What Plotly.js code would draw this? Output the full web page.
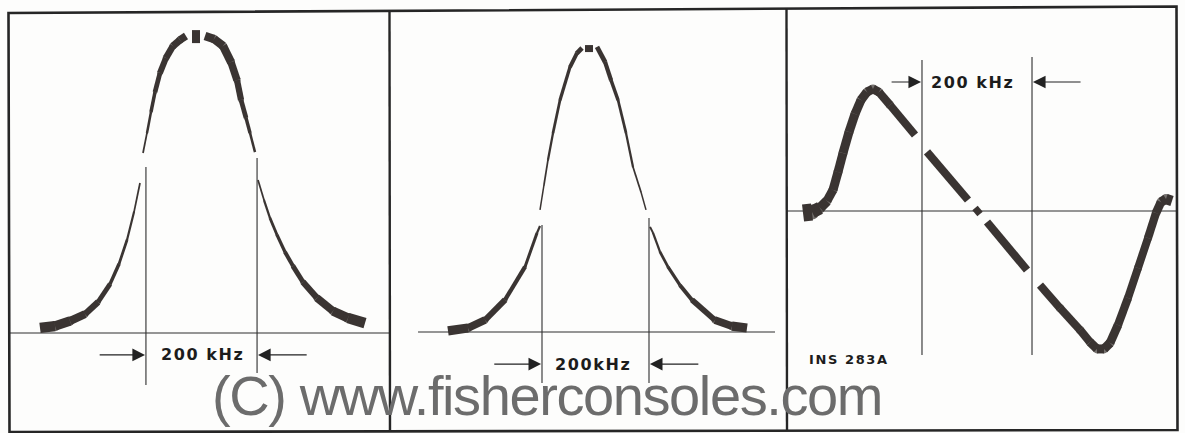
<!DOCTYPE html>
<html>
<head>
<meta charset="utf-8">
<script src="https://cdn.plot.ly/plotly-3.0.1.min.js"></script>
<style>
html,body{margin:0;padding:0;background:#fdfdfc;}
#chart{width:1185px;height:433px;}
.annotation-text[style*="DejaVu"]{letter-spacing:1.6px;}
.annotation-text[style*="Liberation"]{letter-spacing:-1.4px;}
</style>
</head>
<body>
<div id="chart"></div>
<script>
// ---------------- DATA ----------------
// Panel 1: response curve, frequency offset (kHz) vs relative amplitude; null = gap in trace
const p1Freq = [-290.7,-263.7,-236.7,-209.7,-186.3,-164.7,-148.5,-134.1,-121.5,-110.7, null,
  -105.3,-98.1,-90.9,-83.7,-74.7,-63.9,-51.3,-38.7,-27.9, null,
  -17.1,-2.7, null,
  6.3,22.5,38.7,53.1,63.9,71.1,80.1,87.3,96.3, null,
  101.7,112.5,123.3,135.9,150.3,164.7,182.7,207.9,236.7,263.7,294.3];
const p1Amp = [0.017,0.023,0.040,0.063,0.103,0.163,0.230,0.310,0.403,0.500, null,
  0.600,0.667,0.737,0.803,0.867,0.917,0.957,0.977,0.990, null,
  0.988,0.988, null,
  0.990,0.980,0.957,0.903,0.843,0.777,0.717,0.667,0.603, null,
  0.510,0.443,0.383,0.327,0.270,0.223,0.170,0.117,0.073,0.050,0.033];

// Panel 2: narrower response curve
const p2Freq = [-275.7,-238.3,-206.5,-169.1,-131.8,-109.3,-103.7, null,
  -103.7,-96.3,-88.8,-79.4,-66.3,-47.7,-34.6,-25.2, null,
  -19.6,-4.7, null,
  2.8,17.8,29.0,42.1,57.0,70.1,85.0,94.4, null,
  101.9,107.5,120.6,135.5,157.9,180.4,223.3,255.1,283.2];
const p2Amp = [0.004,0.014,0.042,0.113,0.229,0.349,0.373, null,
  0.430,0.518,0.606,0.701,0.817,0.933,0.982,1.000, null,
  0.998,0.998, null,
  1.004,0.951,0.887,0.817,0.701,0.581,0.493,0.430, null,
  0.370,0.349,0.282,0.229,0.165,0.113,0.042,0.021,0.014];

// Panel 3: discriminator S-curve
const p3Freq = [-316.3,-300.0,-285.4,-272.7,-261.8,-252.7,-243.6,-232.7,-221.8,-210.9,-200.0,-189.1,-178.2,-158.2,-112.7, null,
  -90.9,-16.4, null,
  -3.6,5.5, null,
  18.2,90.9, null,
  114.5,150.9,187.3,205.4,218.2,230.9,241.8,256.3,274.5,292.7,310.9,325.4,334.5,343.6,354.5];
const p3Amp = [-0.017,-0.008,0.025,0.083,0.174,0.322,0.479,0.653,0.802,0.917,0.983,1.008,0.983,0.876,0.628, null,
  0.488,0.091, null,
  0.025,-0.025, null,
  -0.091,-0.488, null,
  -0.612,-0.802,-0.983,-1.083,-1.140,-1.140,-1.091,-0.942,-0.719,-0.471,-0.223,-0.017,0.074,0.099,0.083];

// Bandwidth markers (kHz) and labels
const markerFreq = [-100, 100];
const bandLabels = ["200 kHz", "200kHz", "200 kHz"];
const figLabel = "INS 283A";
const watermark = "(C) www.fisherconsoles.com";

// ---------------- STYLE ----------------
// trace thickness along each curve (px), same length as the data arrays
const p1W = [11,10,9,7,5.5,4,3,2.5,2,1.5, 0, 1.5,2,3,4,5.5,6.5,7,7.5,7.5, 0, 13,13, 0, 8.5,8.5,8.5,8,7,5.5,4,3,2, 0, 1.5,2,2.5,3,3.5,4.5,5.5,7,8.5,10,11];
const p2W = [10,8.5,7,5,3.5,2.5,2, 0, 1.5,1.5,2,2.5,3,3.5,4.5,5, 0, 7,7, 0, 5,4.5,4,3,2.5,2,1.5,1.5, 0, 2,2,2.5,3,3.5,4.5,7,8.5,10];
const p3W = [19,15,11,9,9,9,9,9,9,9,9,9,8.5,8,8, 0, 8,8, 0, 7,7, 0, 8,8, 0, 8,8,8,8.5,9,9,9,8.5,8,8,8,8.5,9,10,11];

const INK = '#3a3432';
const LINE = '#2e2e2e';
const W = 1185, H = 433;
// panel geometry (pixels in the picture) -> axis ranges
const panels = [
  {L: 9,   R: 389,  cx: 201.5, kpp: 1.8,   by: 333, ypp: 1/300},
  {L: 389, R: 786,  cx: 595.5, kpp: 1.869, by: 332, ypp: 1/284},
  {L: 786, R: 1177, cx: 977,   kpp: 1.818, by: 211, ypp: 1/121}
];
const TOP = 10, BOT = 430;

const traces = [];
function addCurve(xs, ys, ws, n) {
  const xa = n === 0 ? 'x' : 'x' + (n + 1), ya = n === 0 ? 'y' : 'y' + (n + 1);
  const jx = [], jy = [], js = [];
  for (let i = 0; i < xs.length - 1; i++) {
    if (xs[i] === null || xs[i + 1] === null) continue;
    traces.push({type: 'scatter', mode: 'lines', x: [xs[i], xs[i + 1]], y: [ys[i], ys[i + 1]],
      xaxis: xa, yaxis: ya, line: {color: INK, width: (ws[i] + ws[i + 1]) / 2},
      hoverinfo: 'skip', showlegend: false});
    if (i > 0 && xs[i - 1] !== null) { jx.push(xs[i]); jy.push(ys[i]); js.push(ws[i]); }
  }
  traces.push({type: 'scatter', mode: 'markers', x: jx, y: jy, xaxis: xa, yaxis: ya,
    marker: {size: js, color: INK, line: {width: 0}}, hoverinfo: 'skip', showlegend: false});
}
addCurve(p1Freq, p1Amp, p1W, 0);
addCurve(p2Freq, p2Amp, p2W, 1);
addCurve(p3Freq, p3Amp, p3W, 2);

const layout = {
  width: W, height: H, margin: {l: 0, r: 0, t: 0, b: 0},
  paper_bgcolor: '#fdfdfc', plot_bgcolor: 'rgba(0,0,0,0)',
  showlegend: false, shapes: [], annotations: []
};
panels.forEach((p, i) => {
  const sx = i === 0 ? '' : String(i + 1);
  layout['xaxis' + sx] = {domain: [p.L / W, p.R / W], range: [(p.L - p.cx) * p.kpp, (p.R - p.cx) * p.kpp],
    visible: false, fixedrange: true, anchor: 'y' + sx};
  layout['yaxis' + sx] = {domain: [1 - BOT / H, 1 - TOP / H], range: [(p.by - BOT) * p.ypp, (p.by - TOP) * p.ypp],
    visible: false, fixedrange: true, anchor: 'x' + sx};
  p.xr = 'x' + sx; p.yr = 'y' + sx;
  p.xmin = (p.L - p.cx) * p.kpp; p.xmax = (p.R - p.cx) * p.kpp;
});

// baselines
const baseExt = [[panels[0].xmin, panels[0].xmax], [-331.7, 335.5], [panels[2].xmin, panels[2].xmax]];
panels.forEach((p, i) => {
  layout.shapes.push({type: 'line', xref: p.xr, yref: p.yr, x0: baseExt[i][0], x1: baseExt[i][1], y0: 0, y1: 0,
    line: {color: LINE, width: 1.1}, layer: 'below'});
});
// marker lines (vertical extents in axis units of each panel)
const mk = [[[0.553, -0.173], [0.583, -0.133]], [[0.377, -0.180], [0.401, -0.180]], [[1.248, -1.19], [1.273, -1.19]]];
panels.forEach((p, i) => {
  markerFreq.forEach((f, j) => {
    layout.shapes.push({type: 'line', xref: p.xr, yref: p.yr, x0: f, x1: f, y0: mk[i][j][0], y1: mk[i][j][1],
      line: {color: LINE, width: 1.1}, layer: 'below'});
  });
});

// labels
const labY = [-0.073, -0.113, 1.066];
const labShift = [1, -3, -4];
const tailF = [[-186, 192], [-192, 195], [-158, 191]];
const LABFONT = {family: 'DejaVu Sans', size: 16, color: '#1c1c1c', weight: 'bold'};
panels.forEach((p, i) => {
  layout.annotations.push({xref: p.xr, yref: p.yr, x: 0, y: labY[i], xshift: labShift[i], text: bandLabels[i],
    showarrow: false, font: LABFONT, xanchor: 'center', yanchor: 'middle'});
});
layout.annotations.push({xref: panels[2].xr, yref: panels[2].yr, x: -309, y: -1.231, text: figLabel,
  showarrow: false, font: {family: 'DejaVu Sans', size: 13, color: '#1c1c1c', weight: 'bold'},
  xanchor: 'left', yanchor: 'middle'});
layout.annotations.push({xref: 'paper', yref: 'paper', x: 546.5 / W, y: 1 - 395 / H, text: watermark,
  showarrow: false, font: {family: 'Liberation Sans, Arial, sans-serif', size: 56, color: '#6c6c6c'},
  xanchor: 'center', yanchor: 'middle'});
// arrows
panels.forEach((p, i) => {
  markerFreq.forEach((f, j) => {
    layout.annotations.push({xref: p.xr, yref: p.yr, axref: p.xr, ayref: p.yr, x: f * 1.017, y: labY[i],
      ax: tailF[i][j], ay: labY[i], text: '', showarrow: true, arrowhead: 2, arrowsize: 2.1, arrowwidth: 1.2,
      arrowcolor: '#222', standoff: 0});
  });
});

// outer frame and panel dividers (picture pixels -> paper)
const P = (x, y) => (x / W).toFixed(5) + ',' + (1 - y / H).toFixed(5);
layout.shapes.push({type: 'path', xref: 'paper', yref: 'paper',
  path: 'M' + P(8.5, 13) + 'L' + P(1176.5, 6.5) + 'L' + P(1177.5, 430) + 'L' + P(9.5, 432) + 'Z',
  line: {color: '#262626', width: 2.6}, fillcolor: 'rgba(0,0,0,0)'});
layout.shapes.push({type: 'path', xref: 'paper', yref: 'paper',
  path: 'M' + P(389.5, 11) + 'L' + P(390, 432), line: {color: '#262626', width: 2.4}});
layout.shapes.push({type: 'path', xref: 'paper', yref: 'paper',
  path: 'M' + P(786.5, 9) + 'L' + P(787, 431), line: {color: '#262626', width: 2.4}});

Plotly.newPlot('chart', traces, layout, {staticPlot: true, displayModeBar: false});
</script>
</body>
</html>
